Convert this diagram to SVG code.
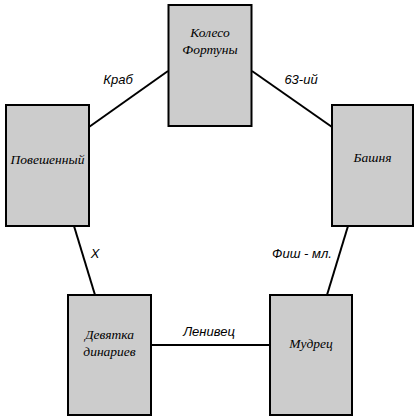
<svg xmlns="http://www.w3.org/2000/svg" width="420" height="420" viewBox="0 0 420 420">
<style>
.box{fill:#cccccc;stroke:#000;stroke-width:2}
.nt{font-family:"Liberation Serif",serif;font-style:italic;font-size:13.5px;text-anchor:middle;fill:#000}
.el{font-family:"Liberation Sans",sans-serif;font-style:italic;font-size:13px;text-anchor:middle;fill:#000}
.ln{stroke:#000;stroke-width:2;fill:none}
</style>
<rect width="420" height="420" fill="#fff"/>
<g id="connectors">
<line class="ln" x1="89" y1="127" x2="168" y2="71"/>
<line class="ln" x1="252" y1="71" x2="332" y2="127"/>
<line class="ln" x1="74" y1="226" x2="95" y2="295"/>
<line class="ln" x1="348" y1="226" x2="327" y2="295"/>
<line class="ln" x1="151" y1="345" x2="270" y2="345"/>
<text class="el" x="118" y="84">Краб</text>
<text class="el" x="301" y="84">63-ий</text>
<text class="el" x="95" y="258">X</text>
<text class="el" x="302" y="258">Фиш - мл.</text>
<text class="el" x="209" y="336">Ленивец</text>
</g>
<g id="koleso">
<rect class="box" x="168.5" y="5" width="83" height="121"/>
<text class="nt" x="210" y="37">Колесо</text>
<text class="nt" x="210" y="54">Фортуны</text>
</g>
<g id="poveshenny">
<rect class="box" x="6" y="105" width="83" height="121"/>
<text class="nt" x="47.5" y="164">Повешенный</text>
</g>
<g id="bashnya">
<rect class="box" x="332" y="105" width="81" height="121"/>
<text class="nt" x="372.5" y="162">Башня</text>
</g>
<g id="devyatka">
<rect class="box" x="68" y="295" width="83" height="120"/>
<text class="nt" x="109.5" y="339">Девятка</text>
<text class="nt" x="109.5" y="356">динариев</text>
</g>
<g id="mudrets">
<rect class="box" x="270" y="295" width="82" height="120"/>
<text class="nt" x="311" y="348">Мудрец</text>
</g>
</svg>
